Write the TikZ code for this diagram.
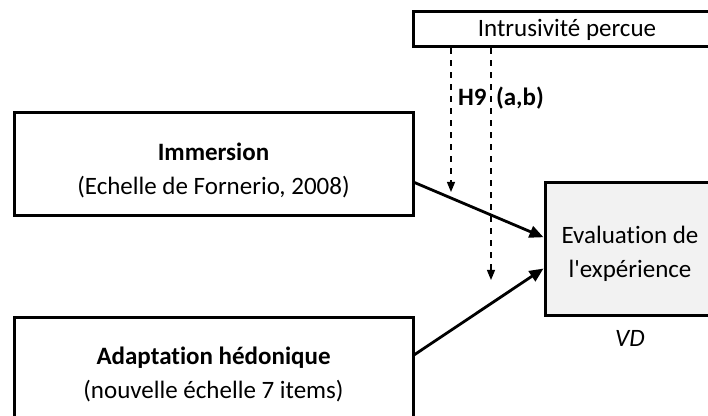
\documentclass[tikz,border=0pt]{standalone}
\usepackage{fontspec}
\setmainfont{Carlito}[Ligatures=NoCommon]
\usetikzlibrary{arrows.meta, positioning, calc}

\begin{document}
\begin{tikzpicture}[
  x=0.5pt, y=-0.5pt,
  box/.style = {draw, line width=1.5pt, align=center, inner sep=0pt},
  vdbox/.style = {box, fill=gray!10},
  boxtext/.style = {align=center, inner sep=0pt},
  effect/.style = {line width=1.4pt, -{Triangle[length=7pt, width=6pt]}},
  moderator/.style = {dashed, line width=0.6pt, -{Triangle[length=5pt, width=4pt]}},
  every node/.style = {font=\fontsize{12.5}{17}\selectfont}
]

% Frame
\useasboundingbox (0,0) rectangle (708,416);
\clip (0,0) rectangle (708,416);

% Boxes
\node[box, minimum width=154pt, minimum height=17.5pt] (intr) at (567,29.5) {Intrusivité percue};
\node[box, minimum width=199.5pt, minimum height=51.5pt,
  label={[boxtext, yshift=-3pt]center:\textbf{Immersion}\\(Echelle de Fornerio, 2008)}] (imm) at (213.5,164.5) {};
\node[box, minimum width=199.5pt, minimum height=51.5pt,
  label={[boxtext, yshift=-2.5pt]center:\textbf{Adaptation hédonique}\\(nouvelle échelle 7 items)}] (adapt) at (213.5,369.5) {};
\node[vdbox, minimum width=85pt, minimum height=66.5pt,
  label={[boxtext, yshift=-2pt]center:Evaluation de\\l\textquotesingle expérience}] (eval) at (630,249.5) {};
\node[below=3pt of eval, font=\fontsize{12.5}{17}\selectfont\itshape] (vd) {VD};

% Direct effects
\draw[effect] ($(imm.north east)!0.67!(imm.south east)$) -- ($(eval.north west)!0.41!(eval.south west)$);
\draw[effect] ($(adapt.north east)!0.36!(adapt.south east)$) -- ($(eval.north west)!0.64!(eval.south west)$);

% Moderation
\coordinate (modA) at (451,192);
\coordinate (modB) at (491,280);
\draw[moderator] (intr.south -| modA) -- (modA);
\draw[moderator] (intr.south -| modB) -- (modB);
\node[font=\fontsize{12.5}{17}\selectfont\bfseries] (h9) at (501,98) {H9\hspace{0.15em} (a,b)};

\end{tikzpicture}
\end{document}
